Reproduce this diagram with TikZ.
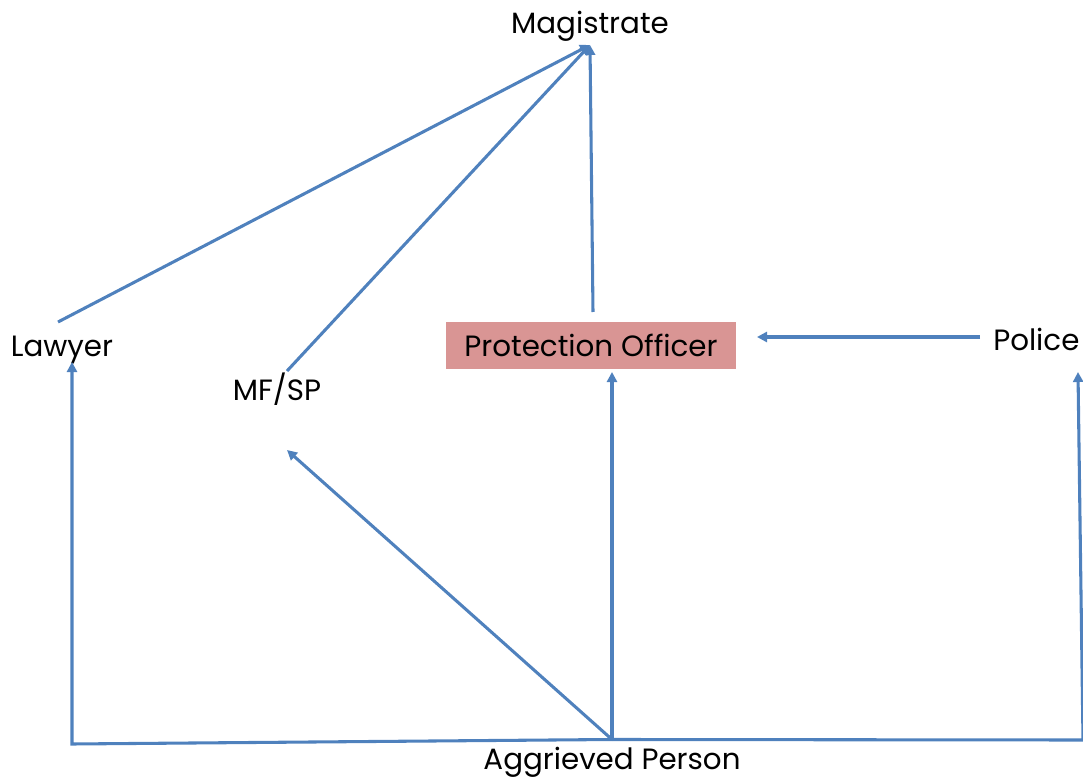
\documentclass[tikz,border=0pt]{standalone}
\usepackage{fontspec}
\setmainfont{Poppins}
\usetikzlibrary{arrows.meta}
\definecolor{lineblue}{RGB}{79,129,189}
\definecolor{pofill}{RGB}{217,149,148}
\tikzset{
  lbl/.style={font=\fontsize{22}{24}\selectfont, text=black, inner sep=0pt},
  conn/.style={draw=lineblue, line width=2.3pt, line cap=butt, line join=miter},
  arr/.style={conn, -{Triangle[length=7.5pt,width=7.5pt]}}
}
\begin{document}
\begin{tikzpicture}[x=0.75pt,y=-0.75pt]
\useasboundingbox (0,0) rectangle (1083,781);
% text nodes
\node[lbl] (mag) at (590,26) {Magistrate};
\node[lbl] (law) at (62,350) {Lawyer};
\node[lbl] (mfsp) at (277,389) {MF/SP};
\node[lbl, fill=pofill, minimum width=290*0.75pt, minimum height=47*0.75pt] (po) at (591,345.5) {Protection Officer};
\node[lbl, anchor=west] (pol) at (993,339) {Police};
\node[lbl] (agg) at (612,762) {Aggrieved Person};
% connector endpoints
\coordinate (magtip) at (590,45);
\coordinate (lawtop) at (58,322);
\coordinate (mfsptop) at (287,371);
\coordinate (potop) at (593,312);
\coordinate (poright) at (757,337);
\coordinate (polleft) at (980,337);
\coordinate (lawbot) at (72,362);
\coordinate (mfspbot) at (287,450);
\coordinate (pobot) at (612,372);
\coordinate (polbot) at (1078,372);
\coordinate (hub) at (612,739.5);
\coordinate (lcorner) at (72,744);
\coordinate (rcorner) at (1083,740);
% connectors
\draw[arr] (lawtop) -- (magtip);
\draw[arr] (mfsptop) -- (magtip);
\draw[arr] (potop) -- (magtip);
\draw[arr] (polleft) -- (poright);
\draw[arr] (hub) -- (pobot);
\draw[arr] (hub) -- (mfspbot);
\draw[arr] (hub) -- (lcorner) -- (lawbot);
\draw[arr] (hub) -- (rcorner) -- (polbot);
\end{tikzpicture}
\end{document}
